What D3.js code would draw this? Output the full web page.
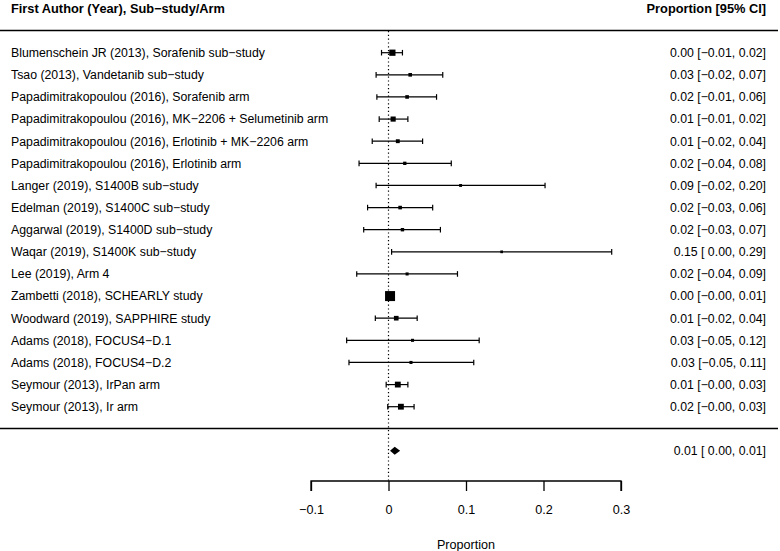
<!DOCTYPE html>
<html>
<head>
<meta charset="utf-8">
<script src="https://cdn.jsdelivr.net/npm/d3@7"></script>
<style>
  body { margin: 0; background: #fff; }
  svg { display: block; font-family: "Liberation Sans", Arial, sans-serif; }
</style>
</head>
<body>
<svg id="forest"></svg>
<script>
// chart size
const width = 780;
const height = 551;

// study labels
const studies = [
  "Blumenschein JR (2013), Sorafenib sub\u2212study",
  "Tsao (2013), Vandetanib sub\u2212study",
  "Papadimitrakopoulou (2016), Sorafenib arm",
  "Papadimitrakopoulou (2016), MK\u22122206 + Selumetinib arm",
  "Papadimitrakopoulou (2016), Erlotinib + MK\u22122206 arm",
  "Papadimitrakopoulou (2016), Erlotinib arm",
  "Langer (2019), S1400B sub\u2212study",
  "Edelman (2019), S1400C sub\u2212study",
  "Aggarwal (2019), S1400D sub\u2212study",
  "Waqar (2019), S1400K sub\u2212study",
  "Lee (2019), Arm 4",
  "Zambetti (2018), SCHEARLY study",
  "Woodward (2019), SAPPHIRE study",
  "Adams (2018), FOCUS4\u2212D.1",
  "Adams (2018), FOCUS4\u2212D.2",
  "Seymour (2013), IrPan arm",
  "Seymour (2013), Ir arm"
];

// point estimates and 95% CI
const estimates = [0.005, 0.028, 0.024, 0.006, 0.012, 0.021, 0.093, 0.015, 0.018, 0.146, 0.024, 0.002, 0.010, 0.031, 0.029, 0.012, 0.016];
const lower     = [-0.009, -0.016, -0.015, -0.012, -0.021, -0.038, -0.016, -0.027, -0.032, 0.004, -0.041, -0.002, -0.017, -0.054, -0.051, -0.003, -0.001];
const upper     = [0.018, 0.070, 0.062, 0.025, 0.044, 0.081, 0.202, 0.057, 0.067, 0.288, 0.089, 0.006, 0.037, 0.117, 0.110, 0.025, 0.033];
// relative weights (box size)
const weights   = [5.6, 1.8, 1.8, 4.0, 2.2, 1.4, 0.8, 1.8, 1.5, 0.5, 1.0, 11.0, 3.3, 1.0, 1.0, 5.0, 5.0];
// printed estimates column
const ciLabels = [
  "0.00 [\u22120.01, 0.02]",
  "0.03 [\u22120.02, 0.07]",
  "0.02 [\u22120.01, 0.06]",
  "0.01 [\u22120.01, 0.02]",
  "0.01 [\u22120.02, 0.04]",
  "0.02 [\u22120.04, 0.08]",
  "0.09 [\u22120.02, 0.20]",
  "0.02 [\u22120.03, 0.06]",
  "0.02 [\u22120.03, 0.07]",
  "0.15 [ 0.00, 0.29]",
  "0.02 [\u22120.04, 0.09]",
  "0.00 [\u22120.00, 0.01]",
  "0.01 [\u22120.02, 0.04]",
  "0.03 [\u22120.05, 0.12]",
  "0.03 [\u22120.05, 0.11]",
  "0.01 [\u22120.00, 0.03]",
  "0.02 [\u22120.00, 0.03]"
];

// pooled estimate
const pooled = { est: 0.008, lo: 0.002, hi: 0.015, label: "0.01 [ 0.00, 0.01]" };

// axis ticks
const xTicks = [-0.1, 0, 0.1, 0.2, 0.3];

const svg = d3.select("#forest").attr("width", width).attr("height", height);

// SCALES
const x = d3.scaleLinear().domain([-0.1, 0.3]).range([311, 621]);
const y = d3.scalePoint().domain(d3.range(studies.length)).range([52.7, 406.7]);
const boxSize = d3.scaleLinear().domain([d3.min(weights), d3.max(weights)]).range([2.7, 10]);

const rows = studies.map((s, i) => ({
  name: s, est: estimates[i], lo: lower[i], hi: upper[i], w: weights[i], label: ciLabels[i], i
}));

const pooledY = 450.7;
const axisY = 481;
const fs = 12.3;

// headers
svg.append("text").attr("x", 11).attr("y", 12.5)
  .attr("font-size", 12.8).attr("font-weight", "bold").text("First Author (Year), Sub\u2212study/Arm");
svg.append("text").attr("x", 766).attr("y", 12.5).attr("text-anchor", "end")
  .attr("font-size", 12.8).attr("font-weight", "bold").text("Proportion [95% CI]");

// horizontal rules
svg.append("line").attr("x1", 0).attr("x2", 778).attr("y1", 30.5).attr("y2", 30.5)
  .attr("stroke", "#000").attr("stroke-width", 1.3);
svg.append("line").attr("x1", 0).attr("x2", 778).attr("y1", 428.5).attr("y2", 428.5)
  .attr("stroke", "#000").attr("stroke-width", 1.3);

// reference line at 0
svg.append("line").attr("x1", x(0)).attr("x2", x(0)).attr("y1", 31).attr("y2", axisY)
  .attr("stroke", "#000").attr("stroke-width", 1.2).attr("stroke-dasharray", "1.2,2.6");

// ROWS
const g = svg.selectAll("g.row").data(rows).enter().append("g").attr("class", "row");

g.append("text").attr("x", 11).attr("y", (d) => y(d.i) + 4.4)
  .attr("font-size", fs).text((d) => d.name);

g.append("text").attr("x", 766).attr("y", (d) => y(d.i) + 4.4)
  .attr("text-anchor", "end").attr("font-size", fs).text((d) => d.label);

g.append("line")
  .attr("x1", (d) => x(d.lo)).attr("x2", (d) => x(d.hi))
  .attr("y1", (d) => y(d.i)).attr("y2", (d) => y(d.i))
  .attr("stroke", "#000").attr("stroke-width", 1.2);

// whisker caps
["lo", "hi"].forEach((k) => {
  g.append("line")
    .attr("x1", (d) => x(d[k])).attr("x2", (d) => x(d[k]))
    .attr("y1", (d) => y(d.i) - 2.8).attr("y2", (d) => y(d.i) + 2.8)
    .attr("stroke", "#000").attr("stroke-width", 1.2);
});

g.append("rect")
  .attr("x", (d) => x(d.est) - boxSize(d.w) / 2)
  .attr("y", (d) => y(d.i) - boxSize(d.w) / 2)
  .attr("width", (d) => boxSize(d.w))
  .attr("height", (d) => boxSize(d.w))
  .attr("fill", "#000");

// pooled diamond
svg.append("path")
  .attr("d", `M${x(pooled.lo)},${pooledY} L${x(pooled.est)},${pooledY - 4} L${x(pooled.hi)},${pooledY} L${x(pooled.est)},${pooledY + 4} Z`)
  .attr("fill", "#000");
svg.append("text").attr("x", 766).attr("y", pooledY + 4.4).attr("text-anchor", "end")
  .attr("font-size", fs).text(pooled.label);

// AXIS
const xAxis = d3.axisBottom(x).tickValues(xTicks).tickSize(10).tickPadding(14)
  .tickFormat((d) => d === 0 ? "0" : d3.format(".1f")(d).replace("-", "\u2212"));

const ax = svg.append("g").attr("transform", `translate(0, ${axisY})`).call(xAxis);
ax.select(".domain").attr("stroke-width", 1.3).attr("d", `M${x(-0.1)},10V0H${x(0.3)}V10`);
ax.selectAll(".tick line").attr("stroke-width", 1.3);
ax.selectAll(".tick text").attr("font-size", 12.6).attr("font-family", "Liberation Sans, Arial, sans-serif").attr("fill", "#000");

svg.append("text").attr("x", x(0.1)).attr("y", 548.5).attr("text-anchor", "middle")
  .attr("font-size", 12.6).text("Proportion");
</script>
</body>
</html>
